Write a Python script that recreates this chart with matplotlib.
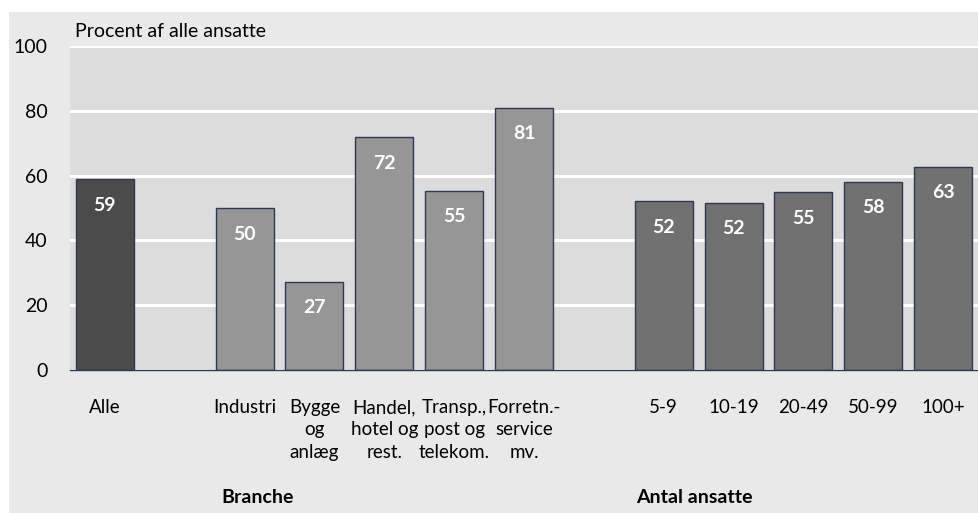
import numpy as np
import matplotlib.pyplot as plt
from matplotlib.patches import Rectangle

plt.rcParams['font.family'] = ['Lato', 'DejaVu Sans']

# Data
labels = ['Alle', '', 'Industri', 'Bygge\nog\nanlæg', 'Handel,\nhotel og\nrest.',
          'Transp.,\npost og\ntelekom.', 'Forretn.-\nservice\nmv.', '',
          '5-9', '10-19', '20-49', '50-99', '100+']
values = [58.9, np.nan, 49.9, 27.3, 71.8, 55.4, 80.9, np.nan,
          52.1, 51.6, 54.9, 58.1, 62.7]
shown = [59, None, 50, 27, 72, 55, 81, None, 52, 52, 55, 58, 63]
group = ['alle', '', 'branche', 'branche', 'branche', 'branche', 'branche', '',
         'str', 'str', 'str', 'str', 'str']
group_titles = ['Branche', 'Antal ansatte']

colors = {'alle': '#4b4b4b', 'branche': '#969696', 'str': '#717171', '': 'none'}

fig = plt.figure(figsize=(9.79, 5.13), dpi=100)
fig.patches.append(Rectangle((9 / 979, 0), 1, 1 - 12 / 513, transform=fig.transFigure,
                             facecolor='#e9e9e9', edgecolor='none', zorder=-10))

ax = fig.add_axes([70 / 979, 143 / 513, 908 / 979, 324 / 513])
ax.set_facecolor('#dcdcdc')

x = np.arange(len(labels))
vals = np.nan_to_num(values)
bars = ax.bar(x, vals, width=0.83, color=[colors[g] for g in group],
              edgecolor=['#2d3852' if g else 'none' for g in group], linewidth=1.0, zorder=3)

for xi, v, s in zip(x, vals, shown):
    if s is None:
        continue
    ax.text(xi, v - 8, str(s), ha='center', va='center', color='white',
            fontsize=14, fontweight='bold', zorder=4)

ax.set_xlim(-0.5, len(labels) - 0.5)
ax.set_ylim(0, 100)
ax.set_yticks([0, 20, 40, 60, 80, 100])
ax.yaxis.grid(True, color='white', linewidth=2.2)
ax.set_axisbelow(True)
ax.tick_params(axis='y', length=0, pad=16, labelsize=14)
ax.tick_params(axis='x', length=0, pad=21, labelsize=13.5)
ax.set_xticks(x)
ax.set_xticklabels(labels, linespacing=1.38, va='top')
for sp in ['left', 'right', 'top']:
    ax.spines[sp].set_visible(False)
ax.spines['bottom'].set_color('#2d3852')
ax.spines['bottom'].set_linewidth(1.0)
ax.spines['bottom'].set_zorder(5)

ax.text(0.005, 1.02, 'Procent af alle ansatte', transform=ax.transAxes,
        ha='left', va='bottom', fontsize=14)

ax.text(2.18, -39.5, group_titles[0], ha='center', va='center', fontsize=14,
        fontweight='bold', clip_on=False)
ax.text(8.44, -39.5, group_titles[1], ha='center', va='center', fontsize=14,
        fontweight='bold', clip_on=False)

fig.savefig('out.png', dpi=100)
